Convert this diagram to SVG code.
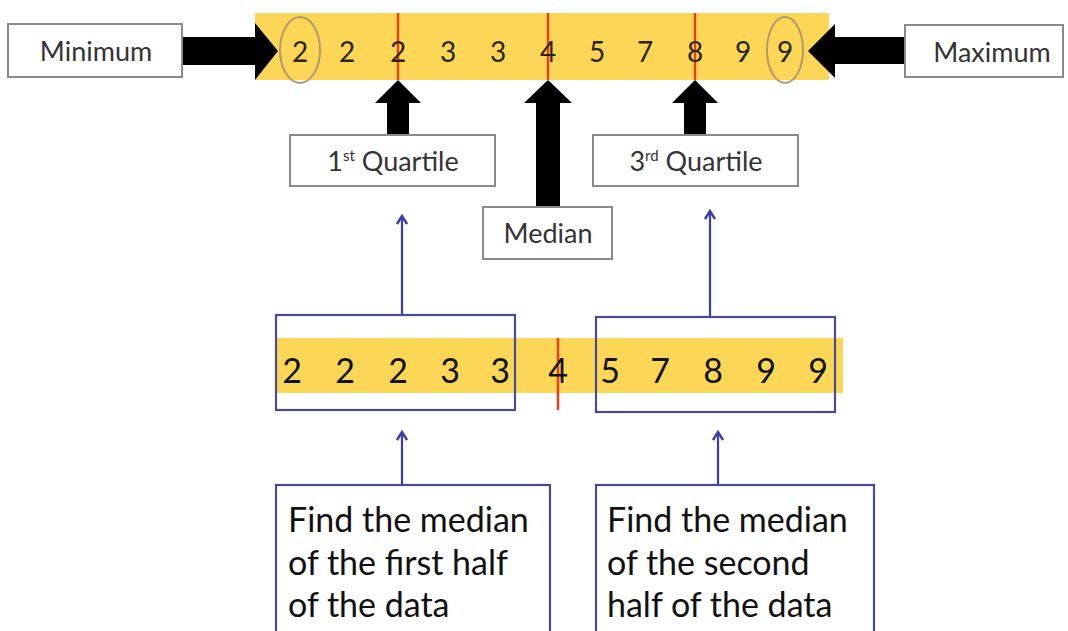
<svg xmlns="http://www.w3.org/2000/svg" width="1068" height="631" viewBox="0 0 1068 631">
<defs>
<style>
.lbl{font-family:Lato,"Liberation Sans",sans-serif;fill:#333;font-size:27px;text-anchor:middle}
.num{font-family:Lato,"Liberation Sans",sans-serif;fill:#2a2410;font-size:28px;text-anchor:middle}
.num2{font-family:Lato,"Liberation Sans",sans-serif;fill:#111;font-size:34px;text-anchor:middle}
.big{font-family:Lato,"Liberation Sans",sans-serif;fill:#111;font-size:34px}
.gbox{fill:#fff;stroke:#8a8a8a;stroke-width:2}
.bbox{fill:none;stroke:#4a4a9a;stroke-width:2.2}
.red{stroke:#e8401c;stroke-width:2.5}
.band{fill:#fcd757}
.blk{fill:#000}
.blue{stroke:#3b3bb0;stroke-width:2.2;fill:none}
.ring{fill:none;stroke:#b09a6a;stroke-width:2}
</style>
<marker id="ah" markerWidth="12" markerHeight="12" refX="10" refY="6" orient="auto" markerUnits="userSpaceOnUse" viewBox="0 0 12 12">
<path d="M2,1 L10,6 L2,11" fill="none" stroke="#3b3bb0" stroke-width="2.4"/>
</marker>
</defs>
<rect width="1068" height="631" fill="#fff"/>

<g id="top-row">
<rect class="band" x="255" y="13" width="574" height="67"/>
<line class="red" x1="398" y1="13" x2="398" y2="80"/>
<line class="red" x1="548" y1="13" x2="548" y2="80"/>
<line class="red" x1="695" y1="13" x2="695" y2="80"/>
<text class="num" x="300" y="62">2</text>
<text class="num" x="347" y="62">2</text>
<text class="num" x="398" y="62">2</text>
<text class="num" x="448" y="62">3</text>
<text class="num" x="498" y="62">3</text>
<text class="num" x="548" y="62">4</text>
<text class="num" x="597" y="62">5</text>
<text class="num" x="645" y="62">7</text>
<text class="num" x="695" y="62">8</text>
<text class="num" x="743" y="62">9</text>
<text class="num" x="785" y="62">9</text>
<ellipse class="ring" cx="300" cy="50" rx="20" ry="33"/>
<ellipse class="ring" cx="785" cy="50" rx="18" ry="33"/>
</g>

<g id="connectors">
<polygon class="blk" points="182,37 255,37 255,23 278,51 255,80 255,65 182,65"/>
<polygon class="blk" points="905,37 835,37 835,24 808,51 835,78 835,64 905,64"/>
<polygon class="blk" points="398,80 421,103 409,103 409,135 387,135 387,103 375,103"/>
<polygon class="blk" points="548,80 572,103 560,103 560,207 536,207 536,103 524,103"/>
<polygon class="blk" points="695,80 718,103 706,103 706,135 684,135 684,103 672,103"/>
<line class="blue" x1="402" y1="315" x2="402" y2="216" marker-end="url(#ah)"/>
<line class="blue" x1="710" y1="317" x2="710" y2="211" marker-end="url(#ah)"/>
<line class="blue" x1="402" y1="485" x2="402" y2="432" marker-end="url(#ah)"/>
<line class="blue" x1="718" y1="485" x2="718" y2="432" marker-end="url(#ah)"/>
</g>

<g id="minimum">
<rect class="gbox" x="8" y="24" width="174" height="53"/>
<text class="lbl" x="96" y="61">Minimum</text>
</g>
<g id="maximum">
<rect class="gbox" x="905" y="25" width="158" height="52"/>
<text class="lbl" x="992" y="62">Maximum</text>
</g>
<g id="q1">
<rect class="gbox" x="290" y="135" width="205" height="51"/>
<text class="lbl" x="393" y="171">1<tspan font-size="15" dy="-10">st</tspan><tspan dy="10"> Quartile</tspan></text>
</g>
<g id="median">
<rect class="gbox" x="483" y="207" width="129" height="52"/>
<text class="lbl" x="548" y="243">Median</text>
</g>
<g id="q3">
<rect class="gbox" x="593" y="135" width="205" height="51"/>
<text class="lbl" x="696" y="171">3<tspan font-size="15" dy="-10">rd</tspan><tspan dy="10"> Quartile</tspan></text>
</g>

<g id="bottom-row">
<rect class="band" x="276" y="338" width="567" height="55"/>
<line class="red" x1="558" y1="338" x2="558" y2="410"/>
<text class="num2" x="292" y="383">2</text>
<text class="num2" x="345" y="383">2</text>
<text class="num2" x="398" y="383">2</text>
<text class="num2" x="450" y="383">3</text>
<text class="num2" x="500" y="383">3</text>
<text class="num2" x="558" y="383">4</text>
<text class="num2" x="610" y="383">5</text>
<text class="num2" x="660" y="383">7</text>
<text class="num2" x="713" y="383">8</text>
<text class="num2" x="766" y="383">9</text>
<text class="num2" x="818" y="383">9</text>
</g>
<g id="first-half">
<rect class="bbox" x="276" y="315" width="239" height="95"/>
</g>
<g id="second-half">
<rect class="bbox" x="596" y="317" width="239" height="95"/>
</g>

<g id="find-first">
<rect class="bbox" x="276" y="485" width="274" height="160"/>
<text class="big" x="288" y="532">Find the median</text>
<text class="big" x="288" y="575">of the first half</text>
<text class="big" x="288" y="617">of the data</text>
</g>
<g id="find-second">
<rect class="bbox" x="596" y="485" width="278" height="160"/>
<text class="big" x="607" y="532">Find the median</text>
<text class="big" x="607" y="575">of the second</text>
<text class="big" x="607" y="617">half of the data</text>
</g>
</svg>
